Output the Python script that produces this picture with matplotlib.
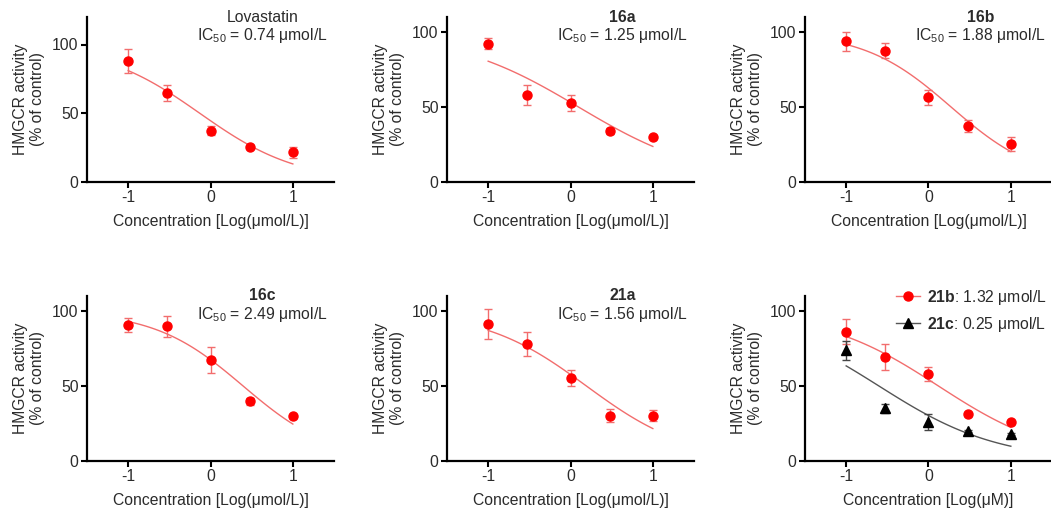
import matplotlib

matplotlib.use("Agg")
import matplotlib.pyplot as plt
import numpy as np

plt.rcParams["font.family"] = ["Liberation Sans", "DejaVu Sans"]
plt.rcParams["mathtext.fontset"] = "custom"
plt.rcParams["mathtext.rm"] = "Liberation Sans"
plt.rcParams["mathtext.it"] = "Liberation Sans:italic"
plt.rcParams["mathtext.bf"] = "Liberation Sans:bold"
plt.rcParams["axes.unicode_minus"] = False

# concentrations (umol/L), plotted as log10
conc = [0.1, 0.3, 1, 3, 10]

lova_mean = [87.8, 64.8, 37.4, 25.7, 21.5]
lova_err = [8.6, 6.0, 3.0, 1.2, 3.7]
c16a_mean = [92.2, 58.3, 52.7, 33.9, 30.0]
c16a_err = [3.6, 6.7, 5.4, 2.2, 0.8]
c16b_mean = [93.9, 87.6, 56.6, 37.1, 25.4]
c16b_err = [6.3, 5.0, 5.0, 4.0, 4.4]
c16c_mean = [90.8, 89.7, 67.3, 39.7, 29.8]
c16c_err = [4.8, 7.3, 8.4, 2.5, 0.8]
c21a_mean = [91.5, 78.0, 55.4, 30.3, 30.3]
c21a_err = [10.0, 8.3, 5.4, 4.3, 3.8]
c21b_mean = [86.1, 69.6, 57.9, 31.1, 26.0]
c21b_err = [8.4, 8.7, 4.8, 0.8, 0.8]
c21c_mean = [73.8, 35.3, 26.0, 20.1, 18.1]
c21c_err = [6.5, 3.0, 5.4, 0.8, 0.8]

# fitted dose-response parameters (IC50 in umol/L, Hill slope)
ic50 = {"Lovastatin": 0.74, "16a": 1.25, "16b": 1.88, "16c": 2.49,
        "21a": 1.56, "21b": 1.32, "21c": 0.25}
hill = {"Lovastatin": 0.725, "16a": 0.562, "16b": 0.819, "16c": 0.804,
        "21a": 0.693, "21b": 0.614, "21c": 0.60}

RED = "#ff0000"
RED_LINE = "#f26d6d"
TXT = "#2b2b2b"
FS = 11.3

W, H = 1051, 512
fig = plt.figure(figsize=(W / 100, H / 100), dpi=100)

col_left = [87, 447, 805]
row_bottom = [330, 51]
ax_w, ax_h = 247, 165


def make_ax(col, row, ymax=110):
    ax = fig.add_axes([col_left[col] / W, row_bottom[row] / H, ax_w / W, ax_h / H])
    for s in ("top", "right"):
        ax.spines[s].set_visible(False)
    for s in ("left", "bottom"):
        ax.spines[s].set_linewidth(1.6)
    ax.tick_params(direction="out", length=4, width=1.5, labelsize=FS,
                   labelcolor=TXT, pad=2)
    ax.set_xlim(-1.5, 1.5)
    ax.set_ylim(0, ymax)
    ax.set_xticks([-1, 0, 1])
    ax.set_yticks([0, 50, 100])
    ax.set_ylabel("HMGCR activity\n(% of control)", fontsize=FS, color=TXT,
                  linespacing=1.2)
    ax.yaxis.set_label_coords(-42 / ax_w, 0.5)
    ax.set_xlabel("Concentration [Log(\u03bcmol/L)]", fontsize=FS, color=TXT,
                  labelpad=6)
    return ax


def dose_curve(ax, key, color):
    xs = np.linspace(-1, 1, 100)
    lx = np.log10(ic50[key])
    ys = 100 / (1 + 10 ** ((xs - lx) * hill[key]))
    ax.plot(xs, ys, color=color, lw=1.0, zorder=2)


def points(ax, mean, err, color, ecolor, marker="o"):
    x = np.log10(conc)
    ax.errorbar(x, mean, yerr=err, fmt=marker, color=color, ecolor=ecolor,
                ms=6.5, elinewidth=1.0, capsize=3, capthick=1.0, zorder=3)


def annotate(ax, name, bold=True):
    ax.text(0.71, 1.0, name, transform=ax.transAxes, ha="center", va="center",
            fontsize=FS, fontweight="bold" if bold else "normal", color=TXT)
    ax.text(0.71, 0.89, "IC$_{50}$ = %.2f \u03bcmol/L" % ic50[name],
            transform=ax.transAxes, ha="center", va="center", fontsize=FS,
            color=TXT)


panels = [
    ("Lovastatin", lova_mean, lova_err, 0, 0, 120),
    ("16a", c16a_mean, c16a_err, 1, 0, 110),
    ("16b", c16b_mean, c16b_err, 2, 0, 110),
    ("16c", c16c_mean, c16c_err, 0, 1, 110),
    ("21a", c21a_mean, c21a_err, 1, 1, 110),
]
for name, mean, err, col, row, ymax in panels:
    ax = make_ax(col, row, ymax)
    dose_curve(ax, name, RED_LINE)
    points(ax, mean, err, RED, RED_LINE)
    annotate(ax, name, bold=(name != "Lovastatin"))

ax = make_ax(2, 1)
ax.set_xlabel("Concentration [Log(\u03bcM)]", fontsize=FS, color=TXT, labelpad=6)
dose_curve(ax, "21b", RED_LINE)
dose_curve(ax, "21c", "#555555")
points(ax, c21b_mean, c21b_err, RED, RED_LINE)
x = np.log10(conc)
ax.errorbar(x, c21c_mean, yerr=c21c_err, fmt="^", color="black", ecolor="#444444",
            ms=7, elinewidth=1.0, capsize=3, capthick=1.0, zorder=3)
h1, = ax.plot([], [], "-o", color=RED_LINE, ms=6.5, lw=1.0, mfc=RED, mec=RED)
h2, = ax.plot([], [], "-^", color="#555555", ms=7, lw=1.0, mfc="black", mec="black")
ax.legend([h1, h2],
          ["$\\mathbf{21b}$: %.2f \u03bcmol/L" % ic50["21b"],
           "$\\mathbf{21c}$: %.2f \u03bcmol/L" % ic50["21c"]],
          loc="upper left", bbox_to_anchor=(0.37, 1.05), frameon=False,
          fontsize=FS, handlelength=1.5, handletextpad=0.45, labelspacing=0.5,
          borderpad=0, borderaxespad=0, labelcolor=TXT)

fig.savefig("out.png", dpi=100)
